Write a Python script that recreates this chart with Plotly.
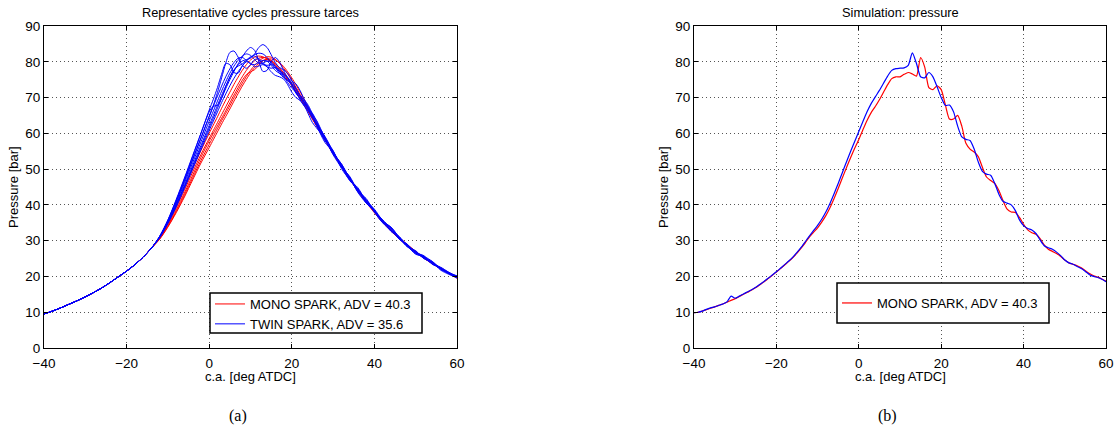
import plotly.graph_objects as go

# ---------------- Left panel: measured representative cycles ----------------
# shared compression branch (all cycles overlap here)
x_lead = [-40, -38, -36, -34, -32, -30, -28, -26, -24, -22, -20, -18, -16, -14]
p_lead = [9.5, 10.3, 11.2, 12.2, 13.2, 14.3, 15.5, 16.8, 18.3, 19.9, 21.5, 23.3, 25.4, 27.9]

# crank-angle grid of the individual cycles
x_cyc = ([-12, -10, -8, -6, -4, -2]
         + [0, 1, 2, 3, 4, 5, 6, 7, 8, 9, 10, 11, 12, 13, 14, 15, 16, 17, 18, 19, 20,
            21, 22, 23, 24, 25, 26]
         + [28, 30, 32, 34, 36, 38, 40, 42, 44, 46, 48, 50, 52, 54, 56, 58, 60])

mono_1 = ([30.9, 35.0, 40.0, 45.0, 50.2, 55.2]
          + [60.0, 62.3, 64.6, 67.0, 69.3, 71.5, 73.7, 75.7, 77.6, 79.2, 80.5, 81.3, 81.6, 81.4,
             80.8, 80.0, 79.0, 77.8, 76.4, 74.9, 73.3, 71.6, 69.8, 67.9, 66.0, 64.0, 62.0]
          + [58.2, 54.3, 50.8, 47.3, 44.0, 41.0, 38.0, 35.4, 33.0, 30.8, 28.8, 27.0, 25.3, 23.8,
             22.4, 21.1, 19.9])
mono_2 = ([30.8, 34.7, 39.2, 44.1, 49.2, 54.1]
          + [58.6, 60.8, 63.0, 65.2, 67.4, 69.6, 71.7, 73.8, 75.8, 77.6, 79.1, 80.3, 81.0, 81.2,
             81.0, 80.4, 79.5, 78.3, 77.0, 75.5, 73.9, 72.2, 70.4, 68.5, 66.6, 64.6, 62.6]
          + [58.6, 54.6, 51.0, 47.5, 44.1, 40.9, 38.1, 35.5, 33.1, 30.8, 28.7, 26.9, 25.2, 23.7,
             22.3, 21.0, 19.8])
mono_3 = ([30.6, 34.3, 38.6, 43.3, 48.3, 53.3]
          + [57.9, 60.0, 62.1, 64.2, 66.3, 68.5, 70.7, 72.8, 74.8, 76.4, 77.2, 77.8, 79.0, 80.3,
             80.6, 80.2, 79.4, 78.3, 76.9, 75.3, 73.6, 71.8, 69.9, 68.0, 66.0, 64.0, 62.1]
          + [58.2, 54.4, 50.7, 47.2, 43.8, 40.7, 37.8, 35.1, 32.7, 30.5, 28.5, 26.7, 25.1, 23.6,
             22.2, 20.9, 19.6])
mono_4 = ([30.5, 34.0, 38.1, 42.7, 47.6, 52.4]
          + [56.9, 59.1, 61.3, 63.5, 65.6, 67.7, 69.9, 72.0, 74.0, 75.9, 77.6, 79.0, 80.2, 81.0,
             81.4, 81.3, 80.7, 79.6, 78.2, 76.6, 74.8, 72.9, 70.9, 68.9, 66.8, 64.7, 62.6]
          + [58.5, 54.6, 51.0, 47.5, 44.2, 41.1, 38.2, 35.5, 33.1, 30.9, 28.9, 27.0, 25.3, 23.8,
             22.3, 21.0, 19.7])
mono_5 = ([30.4, 33.8, 37.8, 42.2, 47.0, 51.7]
          + [56.0, 58.2, 60.4, 62.6, 64.7, 66.8, 69.0, 71.1, 73.2, 75.1, 76.9, 78.4, 79.5, 80.3,
             80.7, 80.8, 80.5, 79.8, 78.7, 77.2, 75.5, 73.6, 71.6, 69.5, 67.3, 65.1, 62.9]
          + [58.7, 54.7, 51.0, 47.4, 44.0, 40.9, 38.0, 35.3, 32.9, 30.6, 28.6, 26.8, 25.1, 23.6,
             22.2, 20.9, 19.5])

twin_1 = ([31.2, 35.8, 41.5, 47.5, 53.8, 60.0]
          + [66.5, 69.5, 72.8, 76.5, 79.5, 79.2, 77.0, 76.8, 78.8, 80.0, 79.6, 78.6, 78.8, 79.2,
             78.6, 77.2, 76.2, 75.8, 75.2, 73.6, 71.5, 70.0, 69.2, 67.8, 65.4, 63.0, 61.5]
          + [58.5, 54.0, 50.5, 47.8, 43.5, 40.5, 38.2, 35.5, 33.0, 30.8, 28.5, 27.0, 25.2, 23.5,
             22.3, 21.0, 19.8])
twin_2 = ([31.1, 35.5, 40.8, 46.6, 52.6, 58.6]
          + [64.6, 67.8, 71.4, 75.5, 79.6, 82.6, 83.0, 81.3, 79.0, 78.2, 79.2, 80.6, 80.8, 79.8,
             78.6, 78.2, 78.4, 77.8, 76.2, 74.2, 72.6, 71.6, 70.6, 68.8, 66.4, 64.2, 62.8]
          + [59.0, 54.6, 51.5, 47.2, 44.5, 41.3, 38.0, 35.8, 33.5, 30.6, 28.9, 26.7, 25.5, 23.8,
             22.1, 21.0, 19.9])
twin_3 = ([31.0, 35.3, 40.4, 46.0, 51.8, 57.6]
          + [63.4, 66.2, 69.0, 71.8, 74.4, 76.8, 78.8, 80.4, 81.6, 82.2, 81.8, 80.6, 79.6, 79.6,
             80.2, 80.0, 78.6, 76.8, 75.6, 74.8, 73.6, 71.6, 69.4, 67.6, 66.2, 64.6, 62.2]
          + [57.5, 54.8, 51.0, 47.0, 44.8, 41.0, 38.5, 35.2, 33.6, 30.5, 29.0, 26.5, 25.6, 23.5,
             22.4, 20.8, 20.0])
twin_4 = ([31.0, 35.1, 40.0, 45.4, 51.0, 56.6]
          + [62.2, 65.0, 67.8, 70.6, 73.2, 75.6, 77.6, 79.2, 80.2, 80.6, 81.0, 82.2, 84.0, 84.8,
             84.0, 82.0, 79.8, 78.4, 77.8, 76.8, 74.8, 72.4, 70.6, 69.4, 67.8, 65.4, 62.8]
          + [59.2, 55.0, 50.6, 48.0, 44.0, 41.5, 38.4, 35.5, 33.8, 31.0, 28.5, 26.6, 25.8, 23.4,
             22.6, 21.2, 20.1])
twin_5 = ([30.9, 34.9, 39.7, 45.0, 50.5, 56.0]
          + [61.5, 64.2, 67.0, 69.8, 72.5, 75.0, 77.3, 79.4, 81.3, 83.0, 84.0, 83.2, 80.2, 77.3,
             77.6, 80.0, 81.2, 80.0, 77.6, 75.6, 74.6, 73.8, 72.0, 69.5, 67.0, 65.2, 63.6]
          + [58.8, 54.2, 51.5, 47.5, 43.8, 41.8, 38.0, 35.0, 33.8, 30.8, 28.2, 27.2, 25.0, 24.2,
             22.2, 20.8, 20.2])
twin_6 = ([31.2, 35.7, 41.2, 47.2, 53.5, 60.0]
          + [66.0, 67.6, 67.8, 69.8, 73.0, 75.8, 77.8, 78.8, 79.4, 80.4, 81.4, 81.6, 80.6, 79.4,
             79.0, 79.2, 78.8, 77.4, 75.8, 74.8, 74.0, 72.6, 70.4, 68.2, 66.8, 65.6, 63.4]
          + [58.2, 55.2, 50.2, 47.0, 44.2, 40.6, 38.6, 35.0, 32.8, 31.2, 28.4, 26.4, 25.4, 24.0,
             22.0, 20.9, 19.6])
twin_7 = ([30.8, 34.8, 39.4, 44.6, 50.0, 55.4]
          + [60.8, 63.4, 66.0, 68.6, 71.0, 73.3, 75.4, 77.2, 78.8, 80.2, 81.2, 82.0, 82.4, 82.2,
             81.2, 79.6, 78.2, 77.4, 76.8, 75.6, 73.6, 71.4, 69.8, 68.8, 67.4, 65.0, 62.4]
          + [58.8, 54.4, 51.2, 47.6, 43.6, 41.2, 38.8, 35.6, 33.2, 30.4, 28.8, 26.9, 25.0, 23.9,
             22.5, 21.1, 19.7])
twin_8 = ([31.1, 35.6, 41.0, 46.8, 52.8, 58.8]
          + [64.8, 67.6, 70.4, 73.2, 75.8, 78.0, 79.8, 81.0, 81.2, 80.4, 79.4, 79.2, 79.8, 80.4,
             80.2, 79.0, 77.6, 76.8, 76.4, 75.4, 73.4, 71.2, 69.8, 68.6, 66.8, 64.4, 62.2]
          + [58.0, 55.0, 50.8, 46.8, 44.4, 40.8, 38.2, 35.8, 32.6, 31.0, 28.6, 26.2, 25.6, 24.2,
             21.8, 20.6, 19.6])

mono_cycles = [mono_1, mono_2, mono_3, mono_4, mono_5]
twin_cycles = [twin_1, twin_2, twin_3, twin_4, twin_5, twin_6, twin_7, twin_8]

# ---------------- Right panel: simulation ----------------
x_sim = list(range(-40, 61))
sim_mono = [9.9, 10.0, 10.3, 10.7, 11.1, 11.5, 11.9, 12.3, 12.8, 13.3,
            13.8, 14.4, 15.0, 15.6, 16.2, 16.9, 17.7, 18.5, 19.4, 20.3,
            21.2, 22.2, 23.2, 24.2, 25.3, 26.5, 27.9, 29.4, 31.0, 32.3,
            33.6, 35.2, 37.0, 39.2, 41.8, 44.6, 47.5, 50.4, 53.2, 55.8,
            58.3, 61.0, 63.6, 65.8, 67.5, 69.4, 71.5, 73.6, 75.3, 75.8,
            75.8, 76.5, 77.0, 76.6, 76.0, 81.2, 78.5, 72.8, 72.2, 73.3,
            72.2, 68.0, 64.0, 64.0, 65.0, 62.0, 57.2, 55.6, 54.8, 53.5,
            50.5, 47.8, 46.8, 46.0, 44.0, 41.2, 38.8, 38.0, 37.9, 36.5,
            34.6, 33.0, 32.2, 31.8, 30.6, 28.8, 27.6, 27.0, 26.4, 25.6,
            24.6, 23.8, 23.4, 23.0, 22.4, 21.6, 20.8, 20.2, 19.8, 19.3,
            18.7]
sim_twin = [9.9, 10.0, 10.3, 10.8, 11.2, 11.5, 11.9, 12.3, 12.9, 14.5,
            13.9, 14.5, 15.1, 15.7, 16.3, 17.0, 17.8, 18.6, 19.5, 20.4,
            21.3, 22.3, 23.3, 24.3, 25.4, 26.7, 28.1, 29.7, 31.3, 32.8,
            34.3, 36.0, 38.0, 40.4, 43.1, 46.0, 49.0, 52.0, 54.9, 57.7,
            60.5, 63.3, 66.0, 68.3, 70.2, 72.0, 74.0, 76.0, 77.6, 78.1,
            78.2, 78.3, 79.0, 82.5, 79.5, 75.8, 75.5, 77.0, 75.8, 73.0,
            70.0, 67.8, 67.9, 66.0, 62.0, 59.0, 58.3, 58.0, 55.6, 52.0,
            49.4, 48.6, 48.3, 46.0, 43.0, 41.0, 40.5, 40.0, 38.4, 35.8,
            34.2, 33.4, 33.0, 32.0, 30.2, 28.6, 28.0, 27.6, 26.8, 25.8,
            24.6, 23.8, 23.4, 22.8, 22.2, 21.4, 20.5, 20.0, 19.7, 19.2,
            18.5]

x_ticks = [-40, -20, 0, 20, 40, 60]
y_ticks = [0, 10, 20, 30, 40, 50, 60, 70, 80, 90]
titles = ["Representative cycles pressure tarces", "Simulation: pressure"]
x_title = "c.a. [deg ATDC]"
y_title = "Pressure [bar]"
legend_mono = "MONO SPARK, ADV = 40.3"
legend_twin = "TWIN SPARK, ADV = 35.6"
panel_tags = ["(a)", "(b)"]

RED = "#ff0000"
BLUE = "#0000ff"
W, H = 1116, 430
FONT = "Liberation Sans, Arial, Helvetica, sans-serif"

fig = go.Figure()
x_full = x_lead + x_cyc
for i, cyc in enumerate(mono_cycles):
    fig.add_trace(go.Scatter(x=x_full, y=p_lead + cyc, mode="lines",
                             line=dict(color=RED, width=1, shape="spline", smoothing=0.8),
                             name=legend_mono, showlegend=(i == 0), legend="legend",
                             xaxis="x", yaxis="y"))
for i, cyc in enumerate(twin_cycles):
    fig.add_trace(go.Scatter(x=x_full, y=p_lead + cyc, mode="lines",
                             line=dict(color=BLUE, width=1, shape="spline", smoothing=0.8),
                             name=legend_twin, showlegend=(i == 0), legend="legend",
                             xaxis="x", yaxis="y"))

fig.add_trace(go.Scatter(x=x_sim, y=sim_mono, mode="lines",
                         line=dict(color=RED, width=1.2, shape="spline", smoothing=0.6),
                         name=legend_mono, showlegend=True, legend="legend2",
                         xaxis="x2", yaxis="y2"))
fig.add_trace(go.Scatter(x=x_sim, y=sim_twin, mode="lines",
                         line=dict(color=BLUE, width=1.2, shape="spline", smoothing=0.6),
                         name="TWIN SPARK", showlegend=False,
                         xaxis="x2", yaxis="y2"))


def px_x(p):
    return p / W


def px_y(p):
    return 1 - p / H


L = (44, 457)
R = (694, 1106)
TOP, BOT = 26, 348

axis_common = dict(showline=True, linecolor="black", linewidth=1, mirror="ticks",
                   ticks="inside", ticklen=4, tickcolor="black",
                   showgrid=True, gridcolor="#555555", griddash="1px,3px", gridwidth=1,
                   zeroline=False, tickfont=dict(family=FONT, size=13.5, color="black"),
                   automargin=False)
xaxis_extra = dict(ticklabelstandoff=3)

fig.update_layout(
    width=W, height=H,
    margin=dict(l=0, r=0, t=0, b=0),
    paper_bgcolor="white", plot_bgcolor="white",
    font=dict(family=FONT, color="black"),
    xaxis=dict(domain=[px_x(L[0]), px_x(L[1])], range=[-40, 60], tickvals=x_ticks,
               anchor="y", **axis_common, **xaxis_extra),
    yaxis=dict(domain=[px_y(BOT), px_y(TOP)], range=[0, 90], tickvals=y_ticks,
               anchor="x", **axis_common),
    xaxis2=dict(domain=[px_x(R[0]), px_x(R[1])], range=[-40, 60], tickvals=x_ticks,
                anchor="y2", **axis_common, **xaxis_extra),
    yaxis2=dict(domain=[px_y(BOT), px_y(TOP)], range=[0, 90], tickvals=y_ticks,
                anchor="x2", **axis_common),
    legend=dict(x=px_x(210), y=px_y(289), xanchor="left", yanchor="top",
                bgcolor="rgba(0,0,0,0)", borderwidth=0,
                font=dict(family=FONT, size=13, color="black"), tracegroupgap=0),
    legend2=dict(x=px_x(837), y=px_y(288), xanchor="left", yanchor="top",
                 bgcolor="rgba(0,0,0,0)", borderwidth=0,
                 font=dict(family=FONT, size=13, color="black")),
    shapes=[
        dict(type="rect", xref="paper", yref="paper", layer="above",
             x0=px_x(210), x1=px_x(422), y0=px_y(333), y1=px_y(293),
             line=dict(color="black", width=1.5), fillcolor="white"),
        dict(type="rect", xref="paper", yref="paper", layer="above",
             x0=px_x(837), x1=px_x(1049), y0=px_y(323), y1=px_y(283),
             line=dict(color="black", width=1.5), fillcolor="white"),
    ],
)

ann = []
for (a, b), t, tag in zip([L, R], titles, panel_tags):
    cx = (a + b) / 2
    ann.append(dict(text=t, x=px_x(cx), y=px_y(12), xref="paper", yref="paper",
                    showarrow=False, xanchor="center", yanchor="middle",
                    font=dict(family=FONT, size=12.8, color="black")))
    ann.append(dict(text=x_title, x=px_x(cx), y=px_y(376), xref="paper", yref="paper",
                    showarrow=False, xanchor="center", yanchor="middle",
                    font=dict(family=FONT, size=13, color="black")))
    ann.append(dict(text=y_title, x=px_x(a - 31), y=px_y((TOP + BOT) / 2), xref="paper",
                    yref="paper", showarrow=False, textangle=-90,
                    xanchor="center", yanchor="middle",
                    font=dict(family=FONT, size=13, color="black")))
    ann.append(dict(text=tag, x=px_x(cx - 13), y=px_y(416), xref="paper", yref="paper",
                    showarrow=False, xanchor="center", yanchor="middle",
                    font=dict(family="Liberation Serif, Times New Roman, serif", size=16,
                              color="black")))
fig.update_layout(annotations=ann)

fig.write_html("out.html",
               config={"displayModeBar": False},
               post_script="document.body.style.margin='0';"
                           "document.body.style.overflow='hidden';")
